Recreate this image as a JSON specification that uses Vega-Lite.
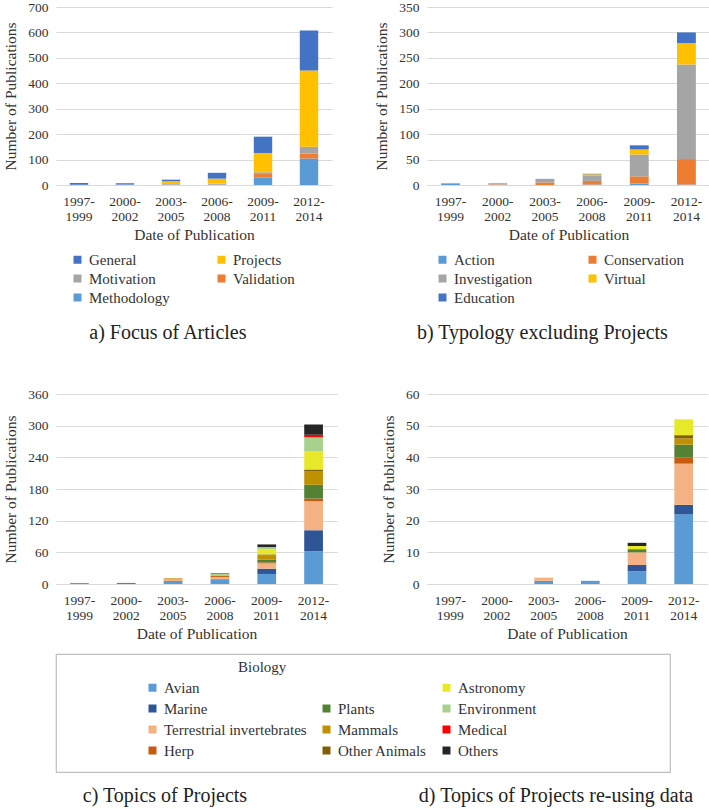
{
  "$schema": "https://vega.github.io/schema/vega-lite/v6.json",
  "padding": {"left": 3, "top": 0, "right": 0, "bottom": 0},
  "background": "white",
  "datasets": {
    "a": [
      {"period": "1997-1999", "focus": "Methodology", "n": 1, "idx": 1},
      {"period": "1997-1999", "focus": "General", "n": 7, "idx": 5},
      {"period": "2000-2002", "focus": "Methodology", "n": 1, "idx": 1},
      {"period": "2000-2002", "focus": "Motivation", "n": 1, "idx": 3},
      {"period": "2000-2002", "focus": "General", "n": 5, "idx": 5},
      {"period": "2003-2005", "focus": "Methodology", "n": 1, "idx": 1},
      {"period": "2003-2005", "focus": "Validation", "n": 1, "idx": 2},
      {"period": "2003-2005", "focus": "Motivation", "n": 2, "idx": 3},
      {"period": "2003-2005", "focus": "Projects", "n": 11, "idx": 4},
      {"period": "2003-2005", "focus": "General", "n": 6, "idx": 5},
      {"period": "2006-2008", "focus": "Methodology", "n": 2, "idx": 1},
      {"period": "2006-2008", "focus": "Validation", "n": 1, "idx": 2},
      {"period": "2006-2008", "focus": "Motivation", "n": 2, "idx": 3},
      {"period": "2006-2008", "focus": "Projects", "n": 20, "idx": 4},
      {"period": "2006-2008", "focus": "General", "n": 23, "idx": 5},
      {"period": "2009-2011", "focus": "Methodology", "n": 30, "idx": 1},
      {"period": "2009-2011", "focus": "Validation", "n": 13, "idx": 2},
      {"period": "2009-2011", "focus": "Motivation", "n": 7, "idx": 3},
      {"period": "2009-2011", "focus": "Projects", "n": 76, "idx": 4},
      {"period": "2009-2011", "focus": "General", "n": 64, "idx": 5},
      {"period": "2012-2014", "focus": "Methodology", "n": 104, "idx": 1},
      {"period": "2012-2014", "focus": "Validation", "n": 20, "idx": 2},
      {"period": "2012-2014", "focus": "Motivation", "n": 26, "idx": 3},
      {"period": "2012-2014", "focus": "Projects", "n": 300, "idx": 4},
      {"period": "2012-2014", "focus": "General", "n": 158, "idx": 5}
    ],
    "b": [
      {"period": "1997-1999", "type": "Action", "n": 2, "idx": 1},
      {"period": "1997-1999", "type": "Education", "n": 1, "idx": 5},
      {"period": "2000-2002", "type": "Conservation", "n": 1, "idx": 2},
      {"period": "2000-2002", "type": "Investigation", "n": 1, "idx": 3},
      {"period": "2000-2002", "type": "Education", "n": 1, "idx": 5},
      {"period": "2003-2005", "type": "Conservation", "n": 5, "idx": 2},
      {"period": "2003-2005", "type": "Investigation", "n": 6, "idx": 3},
      {"period": "2003-2005", "type": "Education", "n": 1, "idx": 5},
      {"period": "2006-2008", "type": "Action", "n": 1, "idx": 1},
      {"period": "2006-2008", "type": "Conservation", "n": 7, "idx": 2},
      {"period": "2006-2008", "type": "Investigation", "n": 11, "idx": 3},
      {"period": "2006-2008", "type": "Virtual", "n": 2, "idx": 4},
      {"period": "2006-2008", "type": "Education", "n": 1, "idx": 5},
      {"period": "2009-2011", "type": "Action", "n": 3, "idx": 1},
      {"period": "2009-2011", "type": "Conservation", "n": 14, "idx": 2},
      {"period": "2009-2011", "type": "Investigation", "n": 43, "idx": 3},
      {"period": "2009-2011", "type": "Virtual", "n": 10, "idx": 4},
      {"period": "2009-2011", "type": "Education", "n": 8, "idx": 5},
      {"period": "2012-2014", "type": "Action", "n": 1, "idx": 1},
      {"period": "2012-2014", "type": "Conservation", "n": 50, "idx": 2},
      {"period": "2012-2014", "type": "Investigation", "n": 186, "idx": 3},
      {"period": "2012-2014", "type": "Virtual", "n": 42, "idx": 4},
      {"period": "2012-2014", "type": "Education", "n": 21, "idx": 5}
    ],
    "c": [
      {"period": "1997-1999", "topic": "Avian", "n": 2, "idx": 1},
      {"period": "2000-2002", "topic": "Avian", "n": 1, "idx": 1},
      {"period": "2000-2002", "topic": "Others", "n": 1, "idx": 11},
      {"period": "2003-2005", "topic": "Avian", "n": 4, "idx": 1},
      {"period": "2003-2005", "topic": "Marine", "n": 1, "idx": 2},
      {"period": "2003-2005", "topic": "Terrestrial invertebrates", "n": 4, "idx": 3},
      {"period": "2003-2005", "topic": "Herp", "n": 1, "idx": 4},
      {"period": "2003-2005", "topic": "Mammals", "n": 1, "idx": 6},
      {"period": "2006-2008", "topic": "Avian", "n": 8, "idx": 1},
      {"period": "2006-2008", "topic": "Marine", "n": 1, "idx": 2},
      {"period": "2006-2008", "topic": "Terrestrial invertebrates", "n": 4, "idx": 3},
      {"period": "2006-2008", "topic": "Herp", "n": 2, "idx": 4},
      {"period": "2006-2008", "topic": "Plants", "n": 1, "idx": 5},
      {"period": "2006-2008", "topic": "Environment", "n": 3, "idx": 9},
      {"period": "2006-2008", "topic": "Others", "n": 1, "idx": 11},
      {"period": "2009-2011", "topic": "Avian", "n": 19, "idx": 1},
      {"period": "2009-2011", "topic": "Marine", "n": 10, "idx": 2},
      {"period": "2009-2011", "topic": "Terrestrial invertebrates", "n": 10, "idx": 3},
      {"period": "2009-2011", "topic": "Herp", "n": 2, "idx": 4},
      {"period": "2009-2011", "topic": "Plants", "n": 5, "idx": 5},
      {"period": "2009-2011", "topic": "Mammals", "n": 8, "idx": 6},
      {"period": "2009-2011", "topic": "Other Animals", "n": 2, "idx": 7},
      {"period": "2009-2011", "topic": "Astronomy", "n": 10, "idx": 8},
      {"period": "2009-2011", "topic": "Environment", "n": 4, "idx": 9},
      {"period": "2009-2011", "topic": "Others", "n": 5, "idx": 11},
      {"period": "2012-2014", "topic": "Avian", "n": 62, "idx": 1},
      {"period": "2012-2014", "topic": "Marine", "n": 40, "idx": 2},
      {"period": "2012-2014", "topic": "Terrestrial invertebrates", "n": 55, "idx": 3},
      {"period": "2012-2014", "topic": "Herp", "n": 5, "idx": 4},
      {"period": "2012-2014", "topic": "Plants", "n": 26, "idx": 5},
      {"period": "2012-2014", "topic": "Mammals", "n": 25, "idx": 6},
      {"period": "2012-2014", "topic": "Other Animals", "n": 4, "idx": 7},
      {"period": "2012-2014", "topic": "Astronomy", "n": 35, "idx": 8},
      {"period": "2012-2014", "topic": "Environment", "n": 26, "idx": 9},
      {"period": "2012-2014", "topic": "Medical", "n": 5, "idx": 10},
      {"period": "2012-2014", "topic": "Others", "n": 19, "idx": 11}
    ],
    "d": [
      {"period": "2003-2005", "topic": "Avian", "n": 1, "idx": 1},
      {"period": "2003-2005", "topic": "Terrestrial invertebrates", "n": 1, "idx": 3},
      {"period": "2006-2008", "topic": "Avian", "n": 1, "idx": 1},
      {"period": "2009-2011", "topic": "Avian", "n": 4, "idx": 1},
      {"period": "2009-2011", "topic": "Marine", "n": 2, "idx": 2},
      {"period": "2009-2011", "topic": "Terrestrial invertebrates", "n": 4, "idx": 3},
      {"period": "2009-2011", "topic": "Plants", "n": 1, "idx": 5},
      {"period": "2009-2011", "topic": "Astronomy", "n": 1, "idx": 8},
      {"period": "2009-2011", "topic": "Others", "n": 1, "idx": 11},
      {"period": "2012-2014", "topic": "Avian", "n": 22, "idx": 1},
      {"period": "2012-2014", "topic": "Marine", "n": 3, "idx": 2},
      {"period": "2012-2014", "topic": "Terrestrial invertebrates", "n": 13, "idx": 3},
      {"period": "2012-2014", "topic": "Herp", "n": 2, "idx": 4},
      {"period": "2012-2014", "topic": "Plants", "n": 4, "idx": 5},
      {"period": "2012-2014", "topic": "Mammals", "n": 2, "idx": 6},
      {"period": "2012-2014", "topic": "Other Animals", "n": 1, "idx": 7},
      {"period": "2012-2014", "topic": "Astronomy", "n": 5, "idx": 8}
    ],
    "titles_c": [{"label": "c) Topics of Projects"}],
    "titles_d": [{"label": "d) Topics of Projects re-using data"}]
  },
  "concat": [
    {
      "hconcat": [
        {
          "width": 276,
          "height": 178,
          "data": {"name": "a"},
          "mark": {"type": "bar"},
          "encoding": {
            "x": {"field": "period", "type": "nominal", "title": "Date of Publication",
                  "scale": {"domain": ["1997-1999", "2000-2002", "2003-2005", "2006-2008", "2009-2011", "2012-2014"]},
                  "axis": {"labelExpr": "[slice(datum.label,0,5), slice(datum.label,5)]"}},
            "y": {"field": "n", "type": "quantitative", "aggregate": "sum", "title": "Number of Publications",
                  "scale": {"domain": [0, 700]}, "axis": {"values": [0, 100, 200, 300, 400, 500, 600, 700]}},
            "color": {"field": "focus", "type": "nominal",
                      "scale": {"domain": ["General", "Projects", "Motivation", "Validation", "Methodology"],
                                "range": ["#4472C4", "#FFC000", "#A5A5A5", "#ED7D31", "#5B9BD5"]},
                      "legend": {"orient": "bottom", "columns": 2, "title": null, "columnPadding": 44, "rowPadding": 3, "padding": 14, "offset": -5}},
            "order": {"field": "idx", "type": "quantitative"}
          },
          "title": {"text": "a) Focus of Articles", "orient": "bottom", "frame": "bounds", "offset": 3}
        },
        {
          "width": 283,
          "height": 178,
          "data": {"name": "b"},
          "mark": {"type": "bar"},
          "encoding": {
            "x": {"field": "period", "type": "nominal", "title": "Date of Publication",
                  "scale": {"domain": ["1997-1999", "2000-2002", "2003-2005", "2006-2008", "2009-2011", "2012-2014"]},
                  "axis": {"labelExpr": "[slice(datum.label,0,5), slice(datum.label,5)]"}},
            "y": {"field": "n", "type": "quantitative", "aggregate": "sum", "title": "Number of Publications",
                  "scale": {"domain": [0, 350]}, "axis": {"values": [0, 50, 100, 150, 200, 250, 300, 350]}},
            "color": {"field": "type", "type": "nominal",
                      "scale": {"domain": ["Action", "Conservation", "Investigation", "Virtual", "Education"],
                                "range": ["#5B9BD5", "#ED7D31", "#A5A5A5", "#FFC000", "#4472C4"]},
                      "legend": {"orient": "bottom", "columns": 2, "title": null, "columnPadding": 52, "rowPadding": 3, "padding": 8, "offset": 1}},
            "order": {"field": "idx", "type": "quantitative"}
          },
          "title": {"text": "b) Typology excluding Projects", "orient": "bottom", "frame": "bounds", "offset": 9}
        }
      ],
      "spacing": 42,
      "resolve": {"scale": {"color": "independent"}}
    },
    {
      "concat": [
        {
          "hconcat": [
            {
              "width": 281,
              "height": 190,
              "data": {"name": "c"},
              "mark": {"type": "bar"},
              "encoding": {
                "x": {"field": "period", "type": "nominal", "title": "Date of Publication",
                      "scale": {"domain": ["1997-1999", "2000-2002", "2003-2005", "2006-2008", "2009-2011", "2012-2014"]},
                      "axis": {"labelExpr": "[slice(datum.label,0,5), slice(datum.label,5)]"}},
                "y": {"field": "n", "type": "quantitative", "aggregate": "sum", "title": "Number of Publications",
                      "scale": {"domain": [0, 360]}, "axis": {"values": [0, 60, 120, 180, 240, 300, 360]}},
                "color": {"field": "topic", "type": "nominal",
                          "scale": {"domain": ["Avian", "Marine", "Terrestrial invertebrates", "Herp", "Plants", "Mammals", "Other Animals", "Astronomy", "Environment", "Medical", "Others"],
                                    "range": ["#5B9BD5", "#2F5597", "#F4B183", "#C55A11", "#548235", "#BF9000", "#7F6000", "#E8E82A", "#A9D18E", "#FF0000", "#262626"]},
                          "legend": null},
                "order": {"field": "idx", "type": "quantitative"}
              }
            },
            {
              "width": 280,
              "height": 190,
              "data": {"name": "d"},
              "mark": {"type": "bar"},
              "encoding": {
                "x": {"field": "period", "type": "nominal", "title": "Date of Publication",
                      "scale": {"domain": ["1997-1999", "2000-2002", "2003-2005", "2006-2008", "2009-2011", "2012-2014"]},
                      "axis": {"labelExpr": "[slice(datum.label,0,5), slice(datum.label,5)]"}},
                "y": {"field": "n", "type": "quantitative", "aggregate": "sum", "title": "Number of Publications",
                      "scale": {"domain": [0, 60]}, "axis": {"values": [0, 10, 20, 30, 40, 50, 60]}},
                "color": {"field": "topic", "type": "nominal",
                          "scale": {"domain": ["Avian", "Marine", "Terrestrial invertebrates", "Herp", "Plants", "Mammals", "Other Animals", "Astronomy", "Environment", "Medical", "Others"],
                                    "range": ["#5B9BD5", "#2F5597", "#F4B183", "#C55A11", "#548235", "#BF9000", "#7F6000", "#E8E82A", "#A9D18E", "#FF0000", "#262626"]},
                          "legend": null},
                "order": {"field": "idx", "type": "quantitative"}
              }
            }
          ],
          "spacing": 44,
          "resolve": {"scale": {"color": "independent"}}
        },
        {
          "width": 614,
          "height": 118,
          "view": {"stroke": "#bfbfbf", "strokeWidth": 1.2},
          "data": {"name": "c"},
          "mark": {"type": "square", "opacity": 0},
          "encoding": {
            "color": {"field": "topic", "type": "nominal",
                      "scale": {"domain": ["Avian", "Marine", "Terrestrial invertebrates", "Herp", " ", "Plants", "Mammals", "Other Animals", "Astronomy", "Environment", "Medical", "Others"],
                                "range": ["#5B9BD5", "#2F5597", "#F4B183", "#C55A11", "#ffffff", "#548235", "#BF9000", "#7F6000", "#E8E82A", "#A9D18E", "#FF0000", "#262626"]},
                      "legend": {"title": "Biology", "orient": "none", "legendX": 89, "legendY": 6, "columns": 3, "direction": "vertical",
                                 "columnPadding": 12, "rowPadding": 5, "titlePadding": 5, "symbolOpacity": 1,
                                 "titleFontSize": 15, "titleFontWeight": "normal", "titleColor": "#333", "titleFont": "Liberation Serif",
                                 "encode": {"title": {"update": {"dx": {"value": 93}}}}}}
          }
        },
        {
          "hconcat": [
            {
              "width": 218,
              "height": 24,
              "data": {"name": "titles_c"},
              "mark": {"type": "text", "font": "Liberation Serif", "fontSize": 20, "color": "#222"},
              "encoding": {"text": {"field": "label"}}
            },
            {
              "width": 304,
              "height": 24,
              "data": {"name": "titles_d"},
              "mark": {"type": "text", "font": "Liberation Serif", "fontSize": 20, "color": "#222"},
              "encoding": {"text": {"field": "label"}}
            }
          ],
          "spacing": 130
        }
      ],
      "columns": 1,
      "spacing": 11,
      "align": "none",
      "resolve": {"scale": {"color": "independent"}}
    }
  ],
  "columns": 1,
  "spacing": 44,
  "align": "none",
  "resolve": {"scale": {"color": "independent"}},
  "config": {
    "font": "Liberation Serif",
    "view": {"stroke": null},
    "style": {
      "guide-label": {"font": "Liberation Serif"},
      "guide-title": {"font": "Liberation Serif"},
      "group-title": {"font": "Liberation Serif"}
    },
    "scale": {"bandPaddingInner": 0.6, "bandPaddingOuter": 0.3},
    "axis": {
      "labelFont": "Liberation Serif", "titleFont": "Liberation Serif",
      "labelFontSize": 13.5, "titleFontSize": 15.5, "titleFontWeight": "normal",
      "labelColor": "#333", "titleColor": "#333",
      "gridColor": "#d9d9d9", "domainColor": "#d9d9d9", "ticks": false
    },
    "axisY": {"domain": false, "labelPadding": 8, "titlePadding": 9, "grid": true},
    "axisX": {"grid": false, "labelAngle": 0, "labelPadding": 9, "labelLineHeight": 15, "titlePadding": 5},
    "legend": {
      "labelFont": "Liberation Serif", "labelFontSize": 15, "labelColor": "#333",
      "symbolType": "square", "symbolSize": 64, "symbolStrokeWidth": 0, "labelOffset": 4
    },
    "title": {"font": "Liberation Serif", "fontSize": 20, "fontWeight": "normal", "color": "#222"}
  }
}
